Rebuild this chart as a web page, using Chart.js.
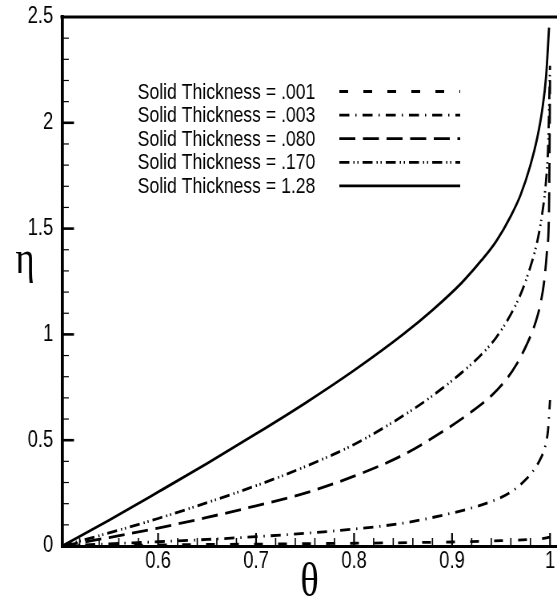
<!DOCTYPE html>
<html>
<head>
<meta charset="utf-8">
<script src="https://cdn.jsdelivr.net/npm/chart.js@4/dist/chart.umd.min.js"></script>
<style>
  html, body { margin: 0; padding: 0; background: #fff; }
</style>
</head>
<body>
<!-- the figure is drawn wide and squeezed to 557px, like the original picture -->
<canvas id="chart" width="696" height="604" style="width:557px;height:604px;display:block"></canvas>
<script>
// Horizontal squeeze of the picture (css width / canvas width)
const squeeze = 557 / 696;

// Axis ticks
const thetaTicks = [0.6, 0.7, 0.8, 0.9, 1];
const etaTicks = [0, 0.5, 1, 1.5, 2, 2.5];

// Series names
const seriesLabels = [
  "Solid Thickness = .001",
  "Solid Thickness = .003",
  "Solid Thickness = .080",
  "Solid Thickness = .170",
  "Solid Thickness = 1.28"
];

// Series values (theta, eta)
const theta001 = [0.502, 0.6, 0.7, 0.8, 0.9, 0.95, 0.98, 0.995, 1.0];
const eta001 = [0, 0.005, 0.009, 0.013, 0.019, 0.025, 0.031, 0.037, 0.042];

const theta003 = [0.502, 0.55, 0.6, 0.65, 0.7, 0.75, 0.8, 0.85, 0.89, 0.92, 0.94, 0.96, 0.972, 0.982, 0.99, 0.995, 0.998, 1.0];
const eta003 = [0, 0.01, 0.02, 0.031, 0.044, 0.06, 0.08, 0.108, 0.145, 0.18, 0.21, 0.255, 0.30, 0.35, 0.41, 0.47, 0.55, 0.69];

const theta080 = [0.502, 0.55, 0.6, 0.65, 0.7, 0.75, 0.8, 0.85, 0.89, 0.92, 0.94, 0.955, 0.966, 0.976, 0.984, 0.99, 0.994, 0.997, 0.999, 1.0];
const eta080 = [0, 0.04, 0.085, 0.135, 0.19, 0.25, 0.33, 0.43, 0.54, 0.635, 0.71, 0.785, 0.86, 0.95, 1.04, 1.14, 1.25, 1.4, 1.6, 2.2];

const theta170 = [0.502, 0.55, 0.6, 0.65, 0.7, 0.75, 0.8, 0.85, 0.88, 0.91, 0.93, 0.945, 0.96, 0.97, 0.98, 0.987, 0.992, 0.996, 0.998, 1.0];
const eta170 = [0, 0.062, 0.13, 0.205, 0.285, 0.375, 0.48, 0.615, 0.71, 0.82, 0.905, 0.985, 1.095, 1.19, 1.32, 1.44, 1.57, 1.73, 1.88, 2.27];

const theta128 = [0.502, 0.55, 0.6, 0.65, 0.7, 0.75, 0.8, 0.85, 0.88, 0.91, 0.93, 0.945, 0.96, 0.97, 0.98, 0.987, 0.992, 0.996, 0.999];
const eta128 = [0, 0.122, 0.255, 0.39, 0.53, 0.675, 0.83, 1.0, 1.115, 1.245, 1.35, 1.44, 1.56, 1.66, 1.8, 1.93, 2.06, 2.22, 2.45];

// Build points
function toPoints(xs, ys) {
  return xs.map((x, i) => ({ x: x, y: ys[i] }));
}

// Line styles
const dashes = [
  [11, 19],
  [12.5, 7.5, 1.5, 7.5],
  [20, 9.5],
  [12.5, 5, 1.5, 3.5, 1.5, 5],
  []
];
const seriesData = [
  toPoints(theta001, eta001),
  toPoints(theta003, eta003),
  toPoints(theta080, eta080),
  toPoints(theta170, eta170),
  toPoints(theta128, eta128)
];

const datasets = seriesLabels.map((label, i) => ({
  label: label,
  data: seriesData[i],
  borderColor: "#000",
  backgroundColor: "#000",
  borderWidth: 2.8,
  borderDash: dashes[i],
  pointRadius: 0,
  cubicInterpolationMode: "monotone",
  fill: false
}));

// Legend drawn inside the plot
const insideLegend = {
  id: "insideLegend",
  afterDraw(chart) {
    const ctx = chart.ctx;
    ctx.save();
    ctx.font = '22px "Liberation Sans", Arial, sans-serif';
    ctx.fillStyle = "#000";
    ctx.strokeStyle = "#000";
    ctx.textAlign = "right";
    ctx.textBaseline = "middle";
    chart.data.datasets.forEach((ds, i) => {
      const y = 92.5 + i * 23.6;
      ctx.fillText(ds.label, 394, y);
      ctx.beginPath();
      ctx.setLineDash(ds.borderDash);
      ctx.lineWidth = ds.borderWidth;
      ctx.moveTo(424, y - 1);
      ctx.lineTo(575, y - 1);
      ctx.stroke();
    });
    ctx.restore();
  }
};

// Inward ticks, top frame line and upright eta label
const frameTicks = {
  id: "frameTicks",
  afterDraw(chart) {
    const { ctx, chartArea, scales } = chart;
    const x = scales.x;
    const y = scales.y;
    ctx.save();
    ctx.strokeStyle = "#000";
    ctx.setLineDash([]);

    // top line
    ctx.lineWidth = 3;
    ctx.beginPath();
    ctx.moveTo(chartArea.left - 2, chartArea.top);
    ctx.lineTo(chartArea.right, chartArea.top);
    ctx.stroke();

    // x ticks every 0.02
    for (let i = 1; i <= 25; i++) {
      const px = x.getPixelForValue(0.5 + i * 0.02);
      const major = i % 5 === 0;
      ctx.lineWidth = major ? 2.2 : 1.6;
      ctx.beginPath();
      ctx.moveTo(px, chartArea.bottom);
      ctx.lineTo(px, chartArea.bottom - (major ? 13 : 8));
      ctx.stroke();
    }

    // y ticks every 0.1
    for (let i = 1; i <= 24; i++) {
      const py = y.getPixelForValue(i * 0.1);
      const major = i % 5 === 0;
      ctx.lineWidth = major ? 2.6 : 1.2;
      ctx.beginPath();
      ctx.moveTo(chartArea.left, py);
      ctx.lineTo(chartArea.left + (major ? 15 : 8.5), py);
      ctx.stroke();
    }

    // eta axis title
    ctx.font = '46px "Liberation Serif", "Times New Roman", serif';
    ctx.fillStyle = "#000";
    ctx.textAlign = "center";
    ctx.textBaseline = "alphabetic";
    ctx.fillText("η", 25 / squeeze, 273);
    ctx.restore();
  }
};

const ctx = document.getElementById("chart").getContext("2d");

const etaChart = new Chart(ctx, {
  type: "line",
  data: { datasets: datasets },
  options: {
    responsive: false,
    animation: false,
    devicePixelRatio: 1,
    layout: { padding: { left: 0, right: 0, top: 17, bottom: 0 } },
    plugins: {
      legend: { display: false },
      tooltip: { enabled: false }
    },
    scales: {
      x: {
        type: "linear",
        min: 0.502,
        max: 1.0071,
        afterFit: (scale) => {
          scale.height = 58;
          scale.paddingLeft = 0;
          scale.paddingRight = 0;
        },
        afterBuildTicks: (scale) => {
          scale.ticks = thetaTicks.map((v) => ({ value: v }));
        },
        grid: { display: false, drawTicks: false },
        border: { display: true, color: "#000", width: 3 },
        ticks: {
          color: "#000",
          padding: 2,
          maxRotation: 0,
          autoSkip: false,
          font: { family: '"Liberation Sans", Arial, sans-serif', size: 23 },
          callback: (v) => String(v)
        },
        title: {
          display: true,
          text: "θ",
          color: "#000",
          font: { family: '"Liberation Serif", "Times New Roman", serif', size: 48, lineHeight: 1 },
          padding: { top: 0, bottom: -3 }
        }
      },
      y: {
        type: "linear",
        min: 0,
        max: 2.5,
        afterFit: (scale) => {
          scale.width = 62 / squeeze;
          scale.paddingTop = 0;
          scale.paddingBottom = 0;
        },
        afterBuildTicks: (scale) => {
          scale.ticks = etaTicks.map((v) => ({ value: v }));
        },
        grid: { display: false, drawTicks: false },
        border: { display: true, color: "#000", width: 3.75 },
        ticks: {
          color: "#000",
          padding: 11,
          font: { family: '"Liberation Sans", Arial, sans-serif', size: 23 },
          callback: (v) => String(v)
        }
      }
    }
  },
  plugins: [insideLegend, frameTicks]
});
</script>
</body>
</html>
